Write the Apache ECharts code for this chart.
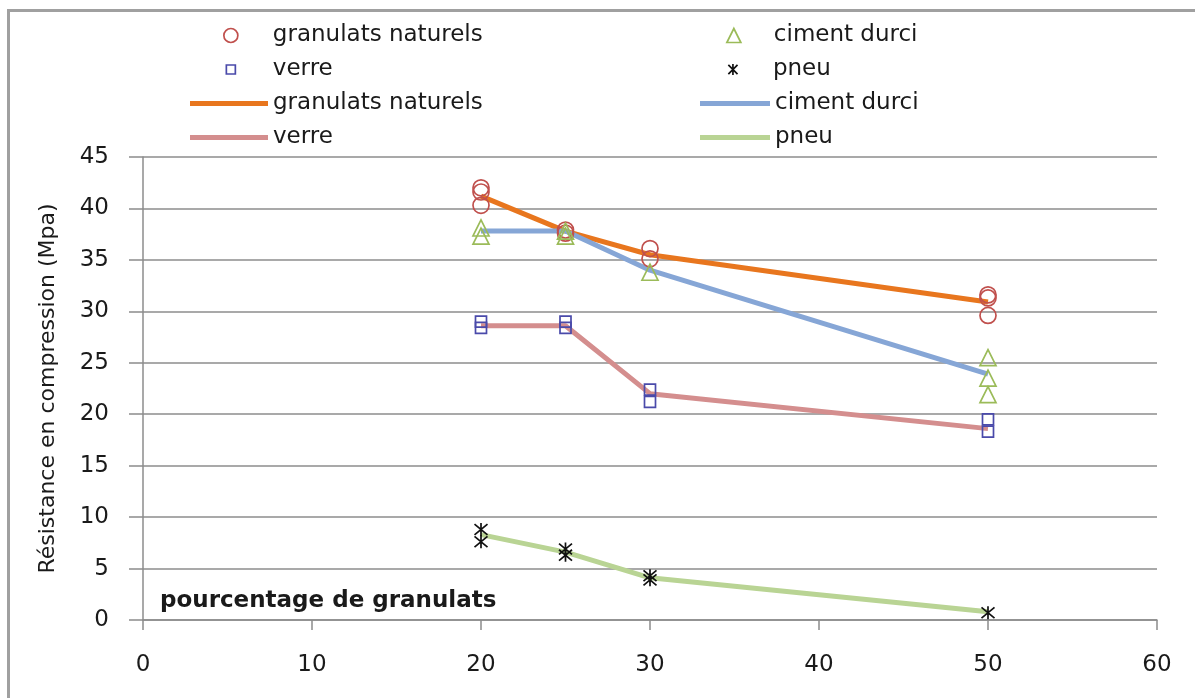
<!DOCTYPE html>
<html>
<head>
<meta charset="utf-8">
<script src="https://cdn.jsdelivr.net/npm/echarts@6/dist/echarts.min.js"></script>
<style>html,body{margin:0;padding:0;background:#fff;}#c{width:1195px;height:698px;}</style>
</head>
<body>
<div id="c"></div>
<script>
// ---- data ----
const xTicks = [0, 10, 20, 30, 40, 50, 60];
const yTicks = [0, 5, 10, 15, 20, 25, 30, 35, 40, 45];
const lineX = [20, 25, 30, 50];
const granulatsLine = [41.2, 37.8, 35.5, 30.9];
const cimentLine = [37.8, 37.8, 34.0, 23.9];
const verreLine = [28.6, 28.6, 22.0, 18.6];
const pneuLine = [8.3, 6.6, 4.1, 0.8];
const granulatsPts = [[20, 42.0], [20, 41.6], [20, 40.3], [25, 37.9], [25, 37.6], [30, 36.1], [30, 35.1], [50, 31.6], [50, 31.3], [50, 29.6]];
const cimentPts = [[20, 38.1], [20, 37.3], [25, 37.8], [25, 37.3], [30, 33.8], [50, 25.5], [50, 23.5], [50, 21.9]];
const verrePts = [[20, 29.0], [20, 28.4], [25, 29.0], [25, 28.4], [30, 22.4], [30, 21.2], [50, 19.5], [50, 18.3]];
const pneuPts = [[20, 8.8], [20, 7.6], [25, 6.9], [25, 6.3], [30, 4.3], [30, 3.9], [50, 0.7]];
const names = ['granulats naturels', 'ciment durci', 'verre', 'pneu'];
const yTitle = 'Résistance en compression (Mpa)';
const xTitle = 'pourcentage de granulats';

// ---- style ----
const FONT = 'DejaVu Sans';
const starPath = 'path://M0,0L10,10M10,0L0,10M5,-1L5,11';
const markerStyles = [
  { symbol: 'circle', size: 16, stroke: '#C0504D' },
  { symbol: 'triangle', size: 16, stroke: '#9BBB59' },
  { symbol: 'rect', size: 11, stroke: '#4A4AAA' },
  { symbol: starPath, size: 13, stroke: '#111111' }
];
const lineColors = ['#E8761E', '#86A6D6', '#D48E8E', '#B9D494'];
const lineData = [granulatsLine, cimentLine, verreLine, pneuLine];
const ptsData = [granulatsPts, cimentPts, verrePts, pneuPts];

const series = [];
for (let i = 0; i < 4; i++) {
  series.push({
    name: names[i] + ' ',
    type: 'line',
    data: lineX.map((x, k) => [x, lineData[i][k]]),
    showSymbol: false,
    symbol: 'none',
    lineStyle: { color: lineColors[i], width: 5 },
    itemStyle: { color: lineColors[i] },
    z: 2
  });
}
for (let i = 0; i < 4; i++) {
  const m = markerStyles[i];
  series.push({
    name: names[i],
    type: 'scatter',
    data: ptsData[i],
    symbol: m.symbol,
    symbolSize: m.size,
    itemStyle: { color: 'transparent', borderColor: m.stroke, borderWidth: 1.7, opacity: 1 },
    z: 5
  });
}

const rows = [38, 72, 106, 140];
const legendSpecs = [
  { name: names[0], idx: 0, line: false, center: 230, row: rows[0], text: 272 },
  { name: names[2], idx: 2, line: false, center: 230, row: rows[1], text: 272 },
  { name: names[1], idx: 1, line: false, center: 733, row: rows[0], text: 773 },
  { name: names[3], idx: 3, line: false, center: 733, row: rows[1], text: 773 },
  { name: names[0] + ' ', idx: 0, line: true, left: 190, row: rows[2], w: 78 },
  { name: names[2] + ' ', idx: 2, line: true, left: 190, row: rows[3], w: 78 },
  { name: names[1] + ' ', idx: 1, line: true, left: 700, row: rows[2], w: 70 },
  { name: names[3] + ' ', idx: 3, line: true, left: 700, row: rows[3], w: 70 }
];
const legends = legendSpecs.map(s => {
  const m = markerStyles[s.idx];
  const iconW = s.line ? s.w : m.size - 2;
  const left = s.line ? s.left : s.center - iconW / 2;
  const pad = s.line ? 0 : s.text - (left + iconW + 5);
  const base = {
    data: [s.name],
    left: left,
    top: s.row - 14,
    padding: 0,
    selectedMode: false,
    formatter: n => '{t|' + n.trim() + '}',
    textStyle: { rich: { t: { fontFamily: FONT, fontSize: 23, color: '#1a1a1a', lineHeight: 28, padding: [0, 0, 0, pad] } } }
  };
  if (s.line) {
    base.icon = 'rect';
    base.itemWidth = s.w;
    base.itemHeight = 5;
    base.itemStyle = { color: lineColors[s.idx], borderWidth: 0 };
  } else {
    base.icon = m.symbol;
    base.itemWidth = iconW;
    base.itemHeight = iconW;
    base.itemStyle = { color: 'transparent', borderColor: m.stroke, borderWidth: 1.7 };
  }
  return base;
});

const chart = echarts.init(document.getElementById('c'), null, { renderer: 'canvas' });
chart.setOption({
  animation: false,
  backgroundColor: '#ffffff',
  graphic: [{
    type: 'rect', shape: { x: 8.5, y: 10.5, width: 1300, height: 800 },
    style: { fill: 'none', stroke: '#A0A0A0', lineWidth: 3 }, silent: true, z: -1
  }],
  legend: legends,
  grid: { left: 143, right: 38, top: 157, bottom: 78, containLabel: false, outerBoundsMode: 'none' },
  xAxis: {
    type: 'value', min: xTicks[0], max: xTicks[xTicks.length - 1], interval: 10,
    name: xTitle, nameLocation: 'start', nameGap: -17,
    nameTextStyle: { fontFamily: FONT, fontSize: 23, fontWeight: 'bold', color: '#1a1a1a', align: 'left', verticalAlign: 'bottom', padding: [0, 0, 7, 0] },
    axisLine: { show: true, onZero: false, lineStyle: { color: '#8C8C8C', width: 1.5 } },
    axisTick: { show: true, length: 10, inside: false, lineStyle: { color: '#8C8C8C', width: 1.5 } },
    axisLabel: { fontFamily: FONT, fontSize: 23, color: '#1a1a1a', margin: 34, showMinLabel: true, showMaxLabel: true, hideOverlap: false },
    splitLine: { show: false }
  },
  yAxis: {
    type: 'value', min: yTicks[0], max: yTicks[yTicks.length - 1], interval: 5,
    name: yTitle, nameLocation: 'middle', nameGap: 84, nameRotate: 90,
    nameTextStyle: { fontFamily: FONT, fontSize: 22, color: '#1a1a1a' },
    axisLine: { show: true, lineStyle: { color: '#8C8C8C', width: 1.5 } },
    axisTick: { show: true, length: 14, lineStyle: { color: '#8C8C8C', width: 1.5 } },
    axisLabel: { fontFamily: FONT, fontSize: 23, color: '#1a1a1a', margin: 34, showMinLabel: true, showMaxLabel: true, hideOverlap: false },
    splitLine: { show: true, lineStyle: { color: '#8C8C8C', width: 1.5 } }
  },
  series: series
});
</script>
</body>
</html>
